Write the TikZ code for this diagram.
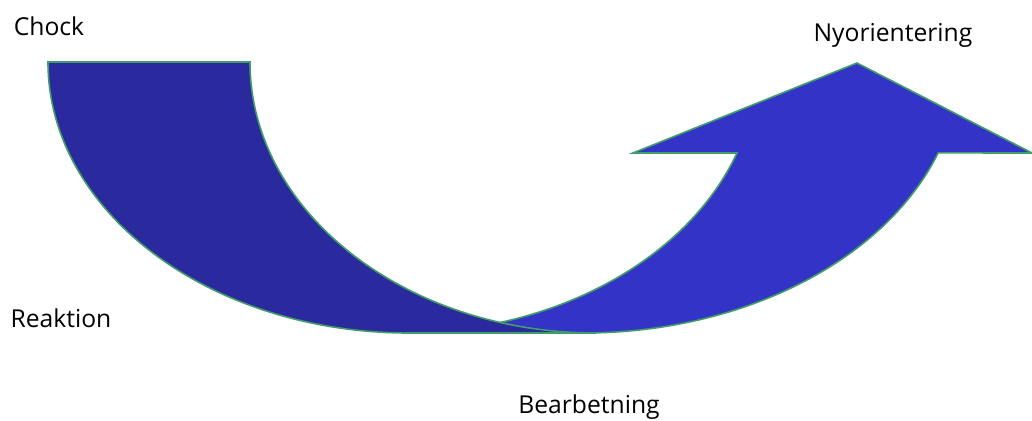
\documentclass[tikz,border=0pt]{standalone}
\usepackage{fontspec}
\setmainfont{Open Sans}
\definecolor{darkarr}{RGB}{42,42,158}
\definecolor{lightarr}{RGB}{51,51,200}
\definecolor{edgegreen}{RGB}{64,156,104}
\begin{document}
\begin{tikzpicture}[x=0.75pt,y=-0.75pt,
  arrowshape/.style={draw=edgegreen,line width=1.2pt,line join=miter},
  lbl/.style={font=\fontsize{18.5}{22}\selectfont,text=black,inner sep=0pt,anchor=base}]
\useasboundingbox (0,0) rectangle (1032,421);
% right (up) arrow, drawn first
\path[arrowshape,fill=lightarr]
  (583,333) arc[start angle=90,end angle=19.6,x radius=377,y radius=271]
  -- (1032,153) -- (857,63) -- (633,153) -- (737,153)
  arc[start angle=19.6,end angle=90,x radius=356,y radius=271]
  -- cycle;
% left (down) arrow on top
\path[arrowshape,fill=darkarr]
  (48,62) arc[start angle=180,end angle=90,x radius=361,y radius=271]
  -- (596,333)
  arc[start angle=90,end angle=180,x radius=346,y radius=271]
  -- cycle;
\node[lbl] (chock) at (49,35) {Chock};
\node[lbl] (reak) at (61,327) {Reaktion};
\node[lbl] (bear) at (589,413) {Bearbetning};
\node[lbl] (nyor) at (893,41) {Nyorientering};
\end{tikzpicture}
\end{document}
